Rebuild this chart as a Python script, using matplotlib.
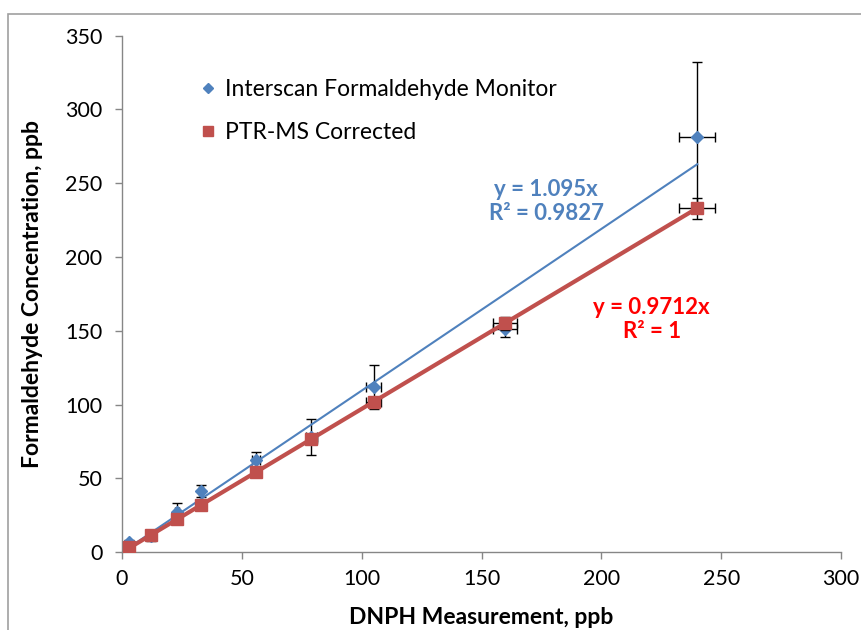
import matplotlib
matplotlib.use("Agg")
import matplotlib.pyplot as plt
from matplotlib.patches import Rectangle
import numpy as np

# Data
dnph = [3, 12, 23, 33, 56, 79, 105, 160, 240]
dnph_err = [0.1, 0.4, 0.7, 1.0, 1.7, 2.4, 3.2, 5.0, 7.4]
interscan = [7, 11, 27.5, 41.5, 62.5, 78, 112, 151, 281]
interscan_err = [1.5, 3.5, 6, 4, 5.5, 12, 15, 5, 51]
ptrms = [3.4, 11.7, 22.3, 31.8, 54.2, 76.5, 101.7, 155, 233]
ptrms_err = [0.5, 1, 1.5, 1.5, 2, 3, 3, 4.5, 7]
slope_interscan = 1.095
slope_ptrms = 0.9712
r2_interscan = "0.9827"
r2_ptrms = "1"

BLUE = "#4F81BD"
RED = "#C0504D"
GRAY = "#868686"
FONT = ["Lato", "DejaVu Sans"]

plt.rcParams['font.family'] = FONT

fig = plt.figure(figsize=(8.62, 6.30), dpi=100)
ax = fig.add_axes([122/862, 1-552.3/630, (841-122)/862, (552.3-35.5)/630])

# outer chart border
fig.patches.append(Rectangle((8/862, -0.1), 2, 1-14/630+0.1, transform=fig.transFigure,
                             fill=False, edgecolor="#A0A0A0", linewidth=1.2))

# series 1 - blue
ax.errorbar(dnph, interscan, yerr=interscan_err, xerr=dnph_err, fmt='none',
            ecolor='black', elinewidth=1, capsize=3.5, capthick=1, zorder=3)
ax.plot(dnph, interscan, linestyle='none', marker='D', markersize=6.5,
        color=BLUE, markeredgecolor=BLUE, zorder=4, label="Interscan Formaldehyde Monitor")
xs = np.array([min(dnph), max(dnph)])
ax.plot(xs, slope_interscan*xs, color=BLUE, linewidth=1.5, zorder=5)

# series 2 - red
ax.errorbar(dnph, ptrms, yerr=ptrms_err, xerr=dnph_err, fmt='none',
            ecolor='black', elinewidth=1, capsize=3.5, capthick=1, zorder=6)
ax.plot(dnph, ptrms, linestyle='none', marker='s', markersize=9,
        color=RED, markeredgecolor=RED, zorder=7, label="PTR-MS Corrected")
ax.plot(xs, slope_ptrms*xs, color=RED, linewidth=3, zorder=8)

ax.set_xlim(0, 300)
ax.set_ylim(0, 350)
ax.set_xticks(np.arange(0, 301, 50))
ax.set_yticks(np.arange(0, 351, 50))
for s in ['top', 'right']:
    ax.spines[s].set_visible(False)
for s in ['left', 'bottom']:
    ax.spines[s].set_color(GRAY)
    ax.spines[s].set_linewidth(1)
ax.tick_params(axis='both', direction='out', length=5, width=1, color=GRAY,
               labelsize=15.5, labelcolor='black', pad=7)
ax.tick_params(axis='y', pad=9)

ax.set_xlabel("DNPH Measurement, ppb", fontsize=16.5, fontweight='bold', labelpad=13)
ax.set_ylabel("Formaldehyde Concentration, ppb", fontsize=16.5, fontweight='bold', labelpad=16)

leg = ax.legend(loc='upper left', bbox_to_anchor=(0.097, 0.933), frameon=False,
                fontsize=16.5, handlelength=0.6, handletextpad=0.45, labelspacing=0.95,
                markerscale=0.8, borderaxespad=0)

ax.text(177, 237.5, "y = 1.095x\nR² = " + r2_interscan,
        color=BLUE, fontsize=16, fontweight='bold', ha='center', va='center',
        linespacing=1.2)
ax.text(221, 157.5, "y = 0.9712x\nR² = " + r2_ptrms,
        color="#FF0000", fontsize=16, fontweight='bold', ha='center', va='center',
        linespacing=1.2)

fig.savefig("out.png", dpi=100)
